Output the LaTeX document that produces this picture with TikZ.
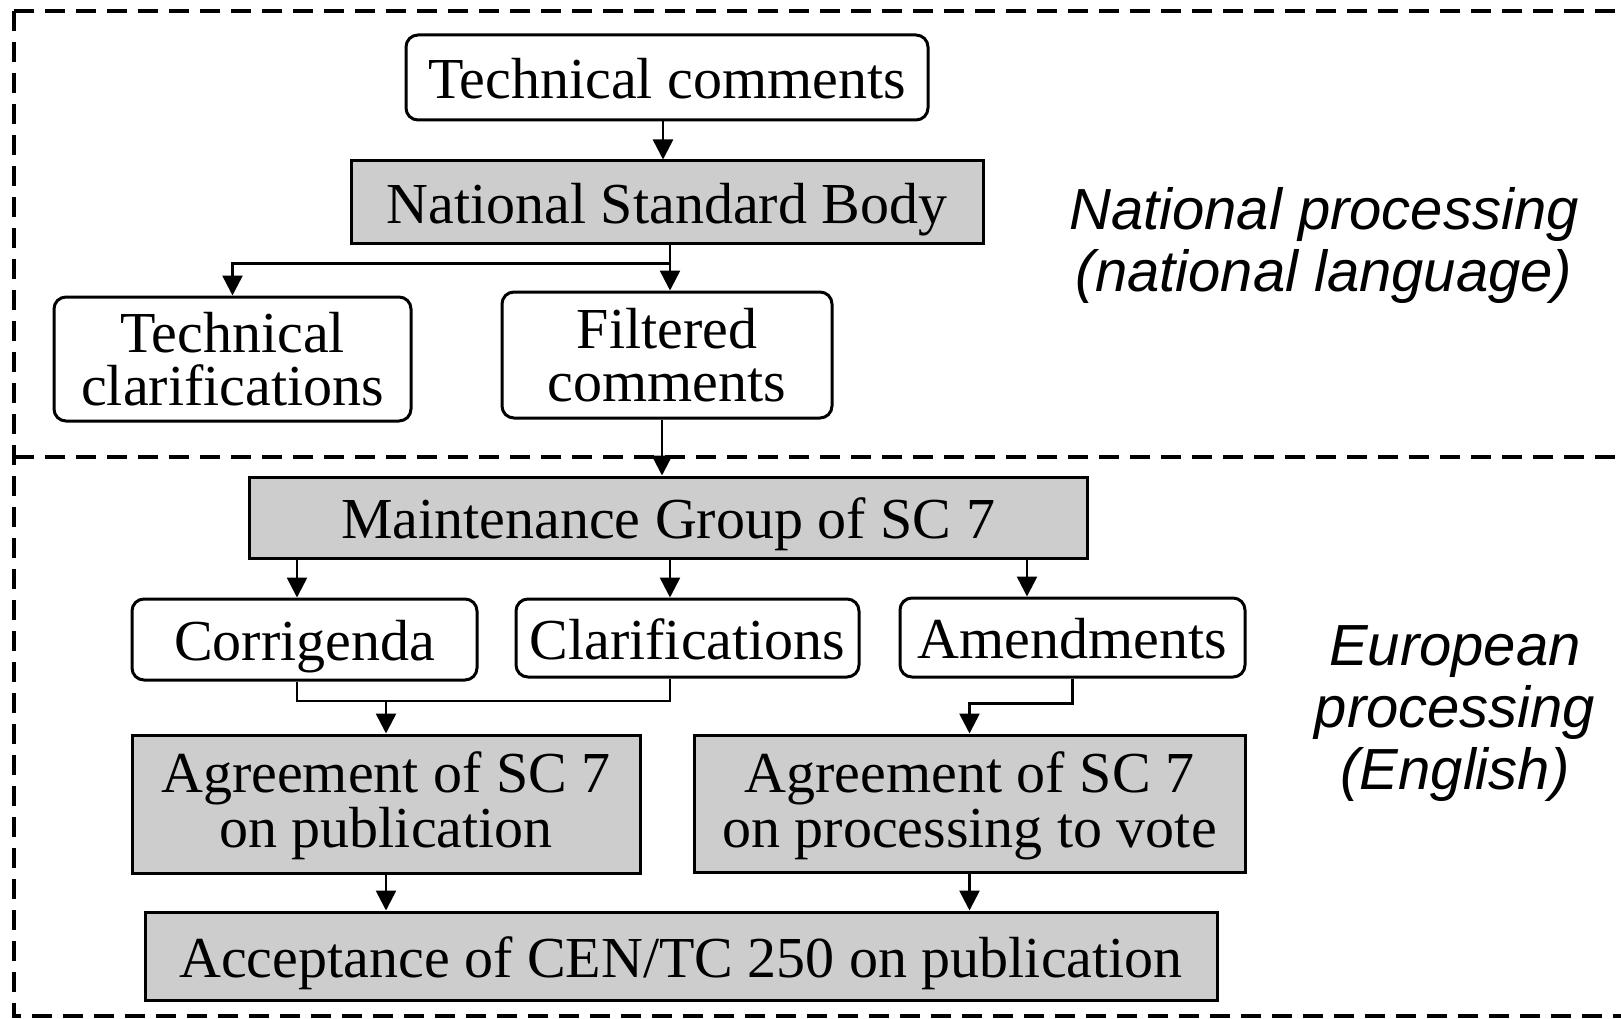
\documentclass[tikz,border=0pt]{standalone}
\usepackage{fontspec}
\setmainfont{Liberation Serif}
\setsansfont{Liberation Sans}
\usetikzlibrary{arrows.meta}
\definecolor{boxgray}{RGB}{205,205,205}
\begin{document}
\begin{tikzpicture}[x=1pt,y=-1pt,
  boxfont/.style={font=\fontsize{58}{55}\selectfont},
  tightfont/.style={font=\fontsize{58}{53}\selectfont},
  oneline/.style={text height=42pt, text depth=0pt},
  rbox/.style={draw, line width=3pt, rounded corners=12pt, fill=white, inner sep=0pt, align=center, boxfont},
  gbox/.style={draw, line width=3pt, fill=boxgray, inner sep=0pt, align=center, boxfont},
  conn/.style={line width=2.6pt},
  arr/.style={line width=2.6pt, -{Triangle[width=20pt,length=20pt]}},
  framedash/.style={line width=4pt, dash pattern=on 20pt off 11pt},
  sidelabel/.style={align=center, inner sep=0pt, font=\sffamily\itshape\fontsize{58}{62}\selectfont}
]
\useasboundingbox (0,0) rectangle (1621,1019);
% frame
\draw[framedash] (14,11) -- (1621,11);
\draw[framedash] (14,11) -- (14,1016) -- (1621,1016);
\draw[framedash] (14,457) -- (1621,457);

% nodes
\node[rbox, oneline, minimum width=522pt, minimum height=85pt] (tc) at (667,77.5) {Technical comments};
\node[gbox, oneline, minimum width=632pt, minimum height=82pt] (nsb) at (667,202) {National Standard Body};
\node[rbox, tightfont, minimum width=357pt, minimum height=124pt] (tcl) at (232.5,359) {Technical\\clarifications};
\node[rbox, tightfont, minimum width=330pt, minimum height=126pt] (fc) at (667,355) {Filtered\\comments};
\node[gbox, oneline, minimum width=838pt, minimum height=81pt] (mg) at (668,517.5) {Maintenance Group of SC 7};
\node[rbox, oneline, minimum width=345pt, minimum height=81pt] (cor) at (304.5,639.5) {Corrigenda};
\node[rbox, oneline, minimum width=343pt, minimum height=78pt] (cla) at (687.5,638) {Clarifications};
\node[rbox, oneline, minimum width=345pt, minimum height=79pt] (ame) at (1072.5,637.5) {Amendments};
\node[gbox, minimum width=508pt, minimum height=138pt] (agp) at (386,804) {\rule{0pt}{45pt}Agreement of SC 7\\on publication};
\node[gbox, minimum width=551pt, minimum height=137pt] (agv) at (969.5,803.5) {\rule{0pt}{45pt}Agreement of SC 7\\on processing to vote};
\node[gbox, oneline, minimum width=1072pt, minimum height=88pt] (acc) at (681,956) {Acceptance of CEN/TC 250 on publication};

\node[sidelabel] (natl) at (1324,246) {National processing\\(national language)};
\node[sidelabel] (euro) at (1455,714) {European\\processing\\(English)};

% connectors
\draw[arr] ([xshift=-4pt]tc.south) -- ([xshift=-4pt]tc.south |- nsb.north);
\draw[arr] ([xshift=3pt]nsb.south) -- ([xshift=3pt]nsb.south |- fc.north);
\draw[arr] ([xshift=3pt]nsb.south) -- ++(0,19) -| (tcl.north);
\draw[arr] ([xshift=-5pt]fc.south) -- ([xshift=-5pt]fc.south |- mg.north);
\draw[arr] ([xshift=-7.5pt]cor.north |- mg.south) -- ([xshift=-7.5pt]cor.north);
\draw[arr] ([xshift=-17.5pt]cla.north |- mg.south) -- ([xshift=-17.5pt]cla.north);
\draw[arr] ([xshift=-45.5pt]ame.north |- mg.south) -- ([xshift=-45.5pt]ame.north);
\coordinate (j1) at (386,701);
\draw[conn] ([xshift=-7.5pt]cor.south) |- (j1) -| ([xshift=-17.5pt]cla.south);
\draw[arr] (j1) -- (agp.north);
\draw[arr] (ame.south) -- ++(0,25) -| (agv.north);
\draw[arr] (agp.south) -- (agp.south |- acc.north);
\draw[arr] (agv.south) -- (agv.south |- acc.north);
\end{tikzpicture}
\end{document}
